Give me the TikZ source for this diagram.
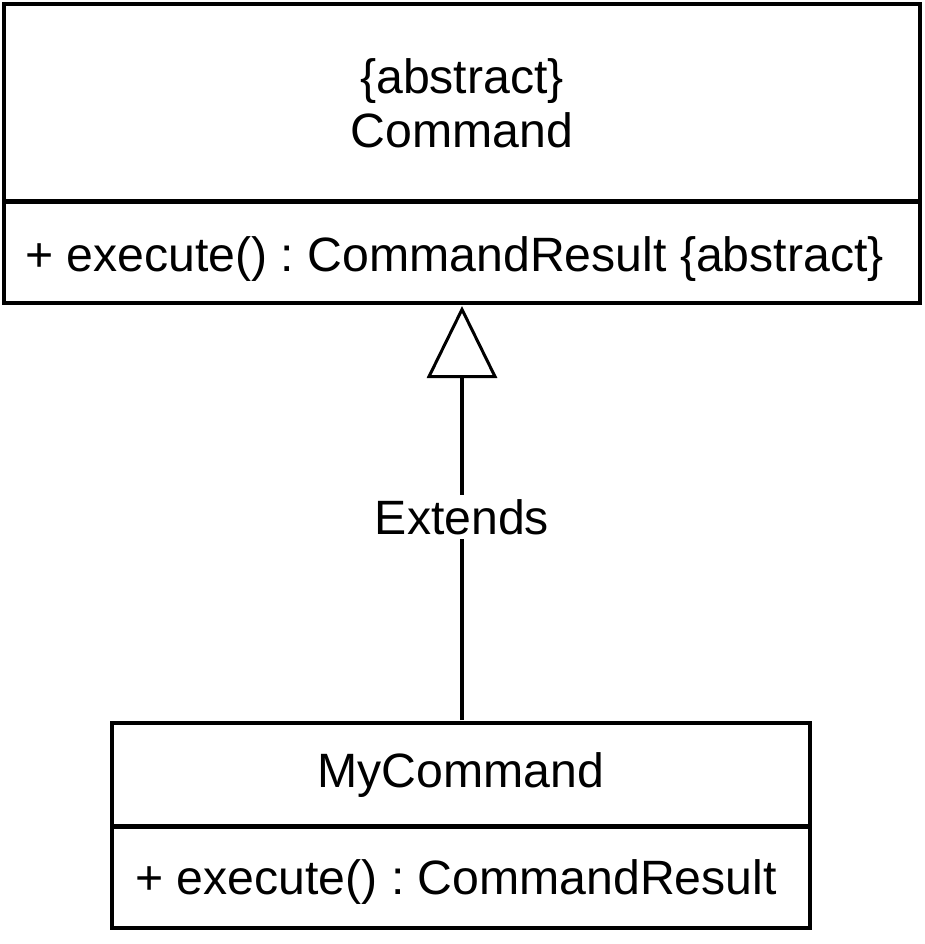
\documentclass[tikz,border=0pt]{standalone}
\usepackage{fontspec}
\setmainfont{Liberation Sans}
\usetikzlibrary{arrows.meta}
\frenchspacing
\begin{document}
\begin{tikzpicture}[x=1pt,y=-1pt,
  umlpart/.style={draw, line width=4pt, inner sep=0pt, outer sep=0pt},
  bigtext/.style={font=\fontsize{48.2}{54}\selectfont},
  conn/.style={line width=4pt, -{Triangle[open, length=72pt, width=70pt, line width=3pt]}}]
\useasboundingbox (0,0) rectangle (924,944);
% top class
\node[umlpart, minimum width=916pt, minimum height=197pt, bigtext, align=center] (th) at (462,103) {\{abstract\}\\Command};
\node[umlpart, minimum width=916pt, minimum height=102pt] (tm) at (462,252) {};
\node[bigtext, anchor=west, inner sep=0pt] (tmt) at (25,259) {+ execute() : CommandResult \{abstract\}};
% bottom class
\node[umlpart, minimum width=698pt, minimum height=104pt, bigtext] (bh) at (461,775) {MyCommand};
\node[umlpart, minimum width=698pt, minimum height=102pt] (bm) at (461,877) {};
\node[bigtext, anchor=west, inner sep=0pt] (bmt) at (135,882) {+ execute() : CommandResult};
% generalization
\coordinate (tip) at (462,306);
\coordinate (base) at (462,720);
\draw[conn] (base) -- node[pos=0.49, fill=white, bigtext, inner sep=4pt] (lbl) {Extends} (tip);
\end{tikzpicture}
\end{document}
